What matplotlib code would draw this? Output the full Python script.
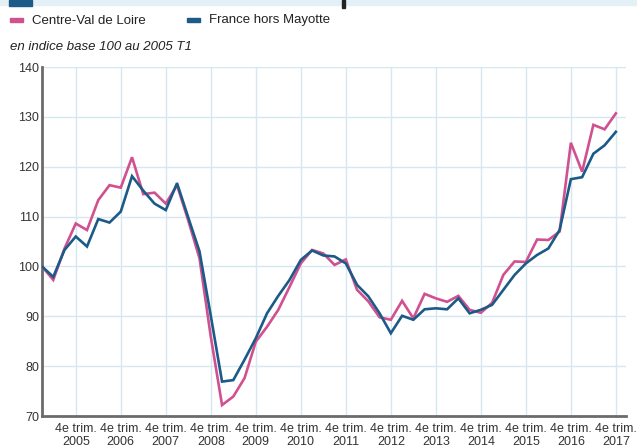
import matplotlib
matplotlib.use("Agg")
import matplotlib.pyplot as plt
from matplotlib.patches import Rectangle

plt.rcParams['font.family'] = ['Liberation Sans', 'DejaVu Sans']

# ── Data: quarterly index, base 100 = 2005 T1 ─────────────────────────────────
YEARS = list(range(2005, 2018))
QUARTERS = [f"{y} T{q}" for y in YEARS for q in range(1, 5)]

centre_val_de_loire = [
    100.0, 97.3, 103.6, 108.6, 107.3, 113.3, 116.3, 115.8,
    121.9, 114.5, 114.8, 112.6, 116.3, 109.2, 101.6, 85.9,
    72.2, 73.9, 77.6, 84.9, 87.9, 91.3, 95.9, 100.6,
    103.3, 102.6, 100.3, 101.4, 95.3, 93.0, 89.8, 89.3,
    93.1, 89.6, 94.5, 93.6, 92.9, 94.1, 91.3, 90.7,
    92.7, 98.3, 101.0, 100.9, 105.4, 105.3, 107.0, 124.8,
    119.0, 128.4, 127.5, 130.7,
]
france_hors_mayotte = [
    100.0, 97.9, 103.3, 106.0, 104.0, 109.5, 108.8, 111.0,
    118.1, 115.2, 112.6, 111.3, 116.7, 109.8, 103.0, 90.1,
    76.9, 77.2, 81.3, 85.6, 90.6, 94.1, 97.3, 101.3,
    103.2, 102.2, 102.0, 100.6, 96.3, 94.0, 90.6, 86.6,
    90.1, 89.3, 91.4, 91.6, 91.4, 93.6, 90.6, 91.3,
    92.3, 95.3, 98.3, 100.6, 102.3, 103.6, 107.3, 117.5,
    117.9, 122.6, 124.3, 127.0,
]

SERIES = [
    ("Centre-Val de Loire", centre_val_de_loire, "#d1508f"),
    ("France hors Mayotte", france_hors_mayotte, "#1c5a87"),
]
Y_TICKS = [70, 80, 90, 100, 110, 120, 130, 140]
X_TICK_LABELS = [f"4e trim.\n{y}" for y in YEARS]

W, H = 637, 448
fig = plt.figure(figsize=(W / 100, H / 100), dpi=100)

# header strip (cropped title bar)
fig.patches.append(Rectangle((0, 1 - 5 / H), 1, 5 / H, transform=fig.transFigure,
                             color="#e3f0f6", zorder=0))
fig.patches.append(Rectangle((9 / W, 1 - 6 / H), 23 / W, 6 / H, transform=fig.transFigure,
                             color="#1c5a87", zorder=1))
fig.patches.append(Rectangle((342 / W, 1 - 8 / H), 3 / W, 8 / H, transform=fig.transFigure,
                             color="#222222", zorder=1))

left, right, top, bottom = 42, 626, 67, 416
ax = fig.add_axes([left / W, 1 - bottom / H, (right - left) / W, (bottom - top) / H])

x = list(range(len(QUARTERS)))
for name, vals, color in SERIES:
    ax.plot(x, vals, color=color, lw=1.9, solid_joinstyle='miter', label=name, zorder=3)

ax.set_xlim(0, 51.9)
ax.set_ylim(70, 140)
ax.set_yticks(Y_TICKS)
ax.set_yticklabels([str(v) for v in Y_TICKS], fontsize=9, color="#333333")
ax.set_xticks([4 * i + 3 for i in range(len(YEARS))])
ax.set_xticklabels(X_TICK_LABELS, fontsize=9, color="#333333", linespacing=1.1)
ax.tick_params(axis='y', length=0, pad=2)
ax.tick_params(axis='x', length=0, pad=5)

ax.grid(True, color="#d6e7f0", lw=1.0, zorder=0)
for s in ("top", "right"):
    ax.spines[s].set_visible(False)
for s in ("left", "bottom"):
    ax.spines[s].set_color("#6b6b6b")
    ax.spines[s].set_linewidth(2.0)

# legend row
legend_items = [(10, "Centre-Val de Loire", "#d1508f"), (187, "France hors Mayotte", "#1c5a87")]
for lx, name, color in legend_items:
    fig.patches.append(Rectangle((lx / W, 1 - 22 / H), 13 / W, 4 / H,
                                 transform=fig.transFigure, color=color))
    fig.text((lx + 22) / W, 1 - 20.5 / H, name, fontsize=9.5, color="#222222", va='center')

fig.text(10 / W, 1 - 47 / H, "en indice base 100 au 2005 T1", fontsize=9.5,
         style='italic', color="#222222", va='center')

fig.savefig("out.png", dpi=100)
